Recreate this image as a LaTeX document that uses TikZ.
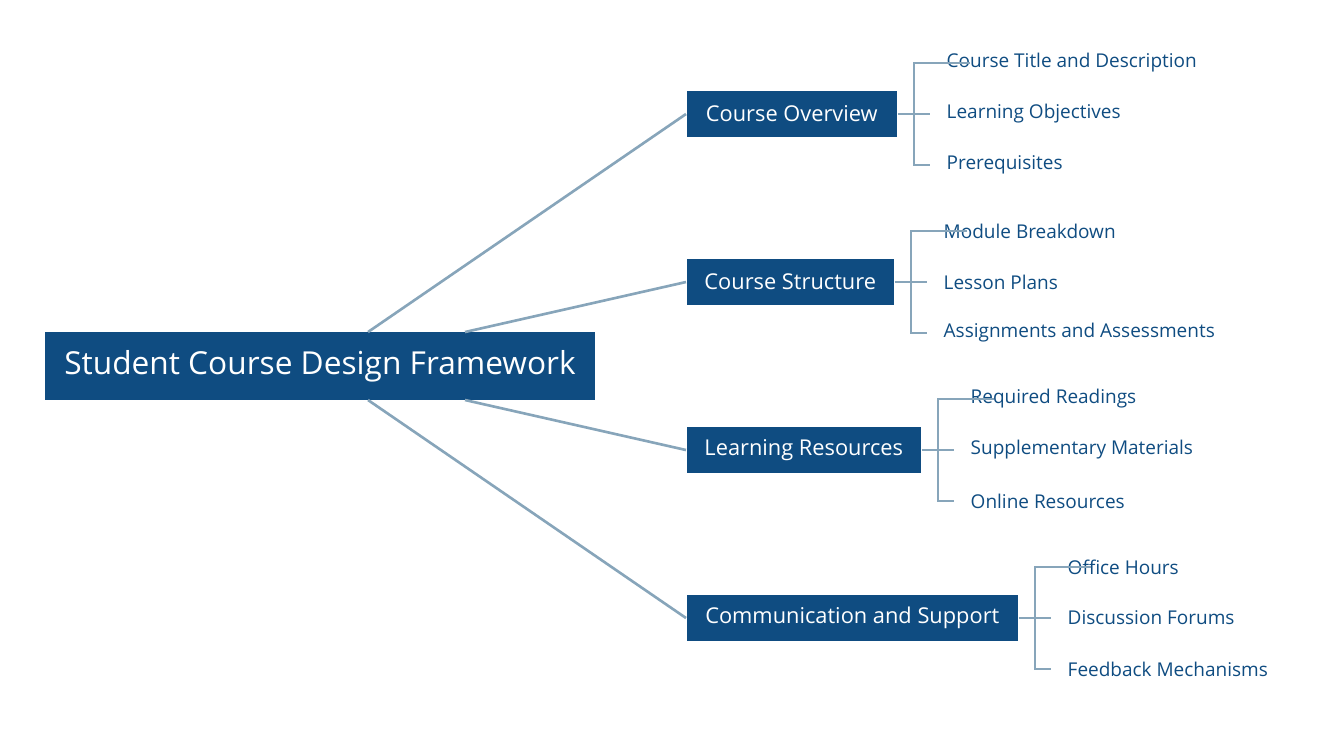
\documentclass[tikz,border=0pt]{standalone}
\usepackage{fontspec}
\setmainfont{Open Sans}
\definecolor{boxblue}{HTML}{0F4C81}
\definecolor{linegray}{HTML}{87A5BA}
\begin{document}
\begin{tikzpicture}[x=0.01cm, y=-0.01cm]
        \tikzstyle{root}=[fill=boxblue,text=white,font=\fontsize{9}{11}\selectfont,minimum height=0.68cm,inner sep=0pt]
        \tikzstyle{topic}=[fill=boxblue,text=white,font=\fontsize{6.2}{8}\selectfont,minimum height=0.46cm,inner sep=0pt,anchor=west]
        \tikzstyle{leaf}=[text=boxblue,font=\fontsize{5.4}{7}\selectfont,anchor=west,inner sep=0pt]
        \tikzstyle{link}=[draw=linegray,line width=0.75pt]

        \useasboundingbox (0,0) rectangle (1324,747);

        \node[root,minimum width=5.5cm] (R) at (320,366) {Student Course Design Framework};

        \node[topic,minimum width=2.10cm] (T_1) at (686,114) {Course Overview};
        \node[topic,minimum width=2.07cm] (T_2) at (686,282) {Course Structure};
        \node[topic,minimum width=2.34cm] (T_3) at (686,450) {Learning Resources};
        \node[topic,minimum width=3.31cm] (T_4) at (686,618) {Communication and Support};

        \coordinate (R_1) at (368,332);
        \coordinate (R_2) at (465,332);
        \coordinate (R_3) at (465,400);
        \coordinate (R_4) at (368,400);
        \foreach \i in {1,...,4} \draw[link] (R_\i) -- (T_\i.west);

        % brackets and leaves
        \foreach \i/\bx/\ya/\yb/\yc/\la/\lb/\lc in {
            1/914/63/114/165/Course Title and Description/Learning Objectives/Prerequisites,
            2/911/231/282/333/Module Breakdown/Lesson Plans/Assignments and Assessments,
            3/938/399/450/501/Required Readings/Supplementary Materials/Online Resources,
            4/1035/567/618/669/Office Hours/Discussion Forums/Feedback Mechanisms}{
            \coordinate (B_\i) at (\bx,\yb);
            \node[leaf] (L_\i_a) at (\bx+32,\ya) {\la};
            \node[leaf] (L_\i_b) at (\bx+32,\yb) {\lb};
            \node[leaf] (L_\i_c) at (\bx+32,\yc) {\lc};
            \draw[link] (T_\i.east) -- (B_\i) -- ++(16,0);
            \draw[link] ([xshift=16]L_\i_a.west -| B_\i) -| (B_\i |- L_\i_c.west) -- ++(16,0);
        }
\end{tikzpicture}
\end{document}
